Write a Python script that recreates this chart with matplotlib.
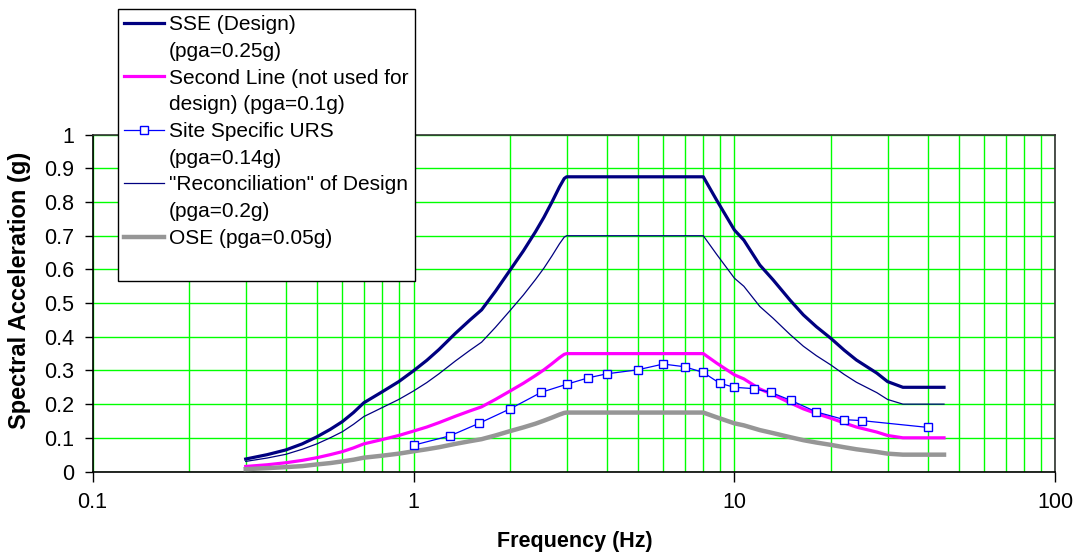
import matplotlib
matplotlib.use("Agg")
import matplotlib.pyplot as plt
from matplotlib.lines import Line2D
from matplotlib.ticker import FixedLocator, NullFormatter, LogLocator

plt.rcParams['font.family'] = ['Liberation Sans', 'DejaVu Sans']

# ---------------- data ----------------
freq = [0.30, 0.35, 0.40, 0.45, 0.50, 0.55, 0.60, 0.65, 0.70, 0.80, 0.90,
        1.00, 1.10, 1.20, 1.35, 1.50, 1.63, 1.80, 2.00, 2.20, 2.40, 2.55,
        2.70, 2.85, 2.95, 3.00, 8.00, 8.80, 10.0, 10.7, 12.0, 13.2, 14.9,
        16.4, 18.0, 20.0, 22.0, 24.0, 27.8, 30.0, 33.5, 45.0]

sse = [0.037, 0.050, 0.064, 0.082, 0.103, 0.125, 0.148, 0.175, 0.204, 0.237, 0.267,
       0.299, 0.330, 0.362, 0.410, 0.450, 0.480, 0.535, 0.598, 0.655, 0.712, 0.755,
       0.800, 0.845, 0.870, 0.875, 0.875, 0.806, 0.717, 0.687, 0.613, 0.569, 0.509,
       0.465, 0.430, 0.395, 0.360, 0.331, 0.292, 0.267, 0.250, 0.250]

second = [0.015, 0.020, 0.026, 0.033, 0.041, 0.050, 0.059, 0.070, 0.082, 0.095, 0.107,
          0.120, 0.132, 0.145, 0.164, 0.180, 0.192, 0.214, 0.239, 0.262, 0.285, 0.302,
          0.320, 0.338, 0.348, 0.350, 0.350, 0.322, 0.287, 0.275, 0.245, 0.228, 0.204,
          0.186, 0.172, 0.158, 0.144, 0.132, 0.117, 0.107, 0.100, 0.100]

recon = [0.030, 0.040, 0.051, 0.066, 0.082, 0.100, 0.118, 0.140, 0.163, 0.190, 0.214,
         0.239, 0.264, 0.290, 0.328, 0.360, 0.384, 0.428, 0.478, 0.524, 0.570, 0.604,
         0.640, 0.676, 0.696, 0.700, 0.700, 0.645, 0.574, 0.550, 0.490, 0.455, 0.407,
         0.372, 0.344, 0.316, 0.288, 0.265, 0.234, 0.214, 0.200, 0.200]

ose = [0.007, 0.010, 0.013, 0.016, 0.021, 0.025, 0.030, 0.035, 0.041, 0.047, 0.053,
       0.060, 0.066, 0.072, 0.082, 0.090, 0.096, 0.107, 0.120, 0.131, 0.142, 0.151,
       0.160, 0.169, 0.174, 0.175, 0.175, 0.161, 0.143, 0.137, 0.123, 0.114, 0.102,
       0.093, 0.086, 0.079, 0.072, 0.066, 0.058, 0.053, 0.050, 0.050]

urs_freq = [1.0, 1.3, 1.6, 2.0, 2.5, 3.0, 3.5, 4.0, 5.0, 6.0, 7.0, 8.0, 9.0, 10.0,
            11.5, 13.0, 15.0, 18.0, 22.0, 25.0, 40.0]
urs = [0.078, 0.106, 0.143, 0.186, 0.235, 0.259, 0.278, 0.290, 0.302, 0.319, 0.311,
       0.294, 0.262, 0.250, 0.246, 0.235, 0.211, 0.177, 0.154, 0.151, 0.131]

legend_labels = ['SSE (Design)', '(pga=0.25g)',
                 'Second Line (not used for', 'design) (pga=0.1g)',
                 'Site Specific URS', '(pga=0.14g)',
                 '"Reconciliation" of Design', '(pga=0.2g)',
                 'OSE (pga=0.05g)', ' ']

x_ticks = [0.1, 1, 10, 100]
x_ticklabels = ['0.1', '1', '10', '100']
y_ticks = [0, 0.1, 0.2, 0.3, 0.4, 0.5, 0.6, 0.7, 0.8, 0.9, 1.0]
y_ticklabels = ['0', '0.1', '0.2', '0.3', '0.4', '0.5', '0.6', '0.7', '0.8', '0.9', '1']

# ---------------- figure ----------------
W, H = 1079, 554
fig = plt.figure(figsize=(W / 100, H / 100), dpi=100)
ax = fig.add_axes([92.6 / W, 1 - 471.5 / H, (1055.3 - 92.6) / W, (471.5 - 134.7) / H])

ax.set_xscale('log')
ax.set_xlim(0.1, 100)
ax.set_ylim(0, 1)

green = '#00FF00'
ax.xaxis.set_major_locator(FixedLocator(x_ticks))
ax.xaxis.set_minor_locator(LogLocator(base=10, subs=[2, 3, 4, 5, 6, 7, 8, 9]))
ax.xaxis.set_minor_formatter(NullFormatter())
ax.set_xticks(x_ticks)
ax.set_xticklabels(x_ticklabels)
ax.set_yticks(y_ticks)
ax.set_yticklabels(y_ticklabels)
ax.grid(True, which='both', axis='x', color=green, lw=1.0, zorder=0)
ax.grid(True, which='major', axis='y', color=green, lw=1.0, zorder=0)
ax.set_axisbelow(True)

ax.tick_params(axis='x', which='major', direction='out', length=7, width=1,
               pad=8, labelsize=15.5, colors='black')
ax.tick_params(axis='x', which='minor', length=0)
ax.tick_params(axis='y', which='major', direction='out', length=6, width=1,
               pad=7, labelsize=15.5, colors='black')

for s in ['left', 'bottom']:
    ax.spines[s].set_color('black')
    ax.spines[s].set_linewidth(1.2)
for s in ['top', 'right']:
    ax.spines[s].set_color('#303030')
    ax.spines[s].set_linewidth(1.2)

# ---------------- series ----------------
l_sse, = ax.plot(freq, sse, color='#000080', lw=2.3, zorder=3)
l_sec, = ax.plot(freq, second, color='#FF00FF', lw=2.3, zorder=3)
l_urs, = ax.plot(urs_freq, urs, color='#0000FF', lw=0.9, marker='s', ms=6,
                 mfc='white', mec='#0000FF', mew=1.0, zorder=4)
l_rec, = ax.plot(freq, recon, color='#000080', lw=0.9, zorder=3)
l_ose, = ax.plot(freq, ose, color='#969696', lw=3.2, zorder=3)

blank = Line2D([], [], color='none')
handles = [l_sse, blank, l_sec, blank, l_urs, blank, l_rec, blank, l_ose, blank]
leg = fig.legend(handles, legend_labels, loc='upper left',
                 bbox_to_anchor=(118 / W, 1 - 9 / H), bbox_transform=fig.transFigure,
                 fontsize=15, frameon=True, fancybox=False, shadow=False,
                 edgecolor='black', framealpha=1, borderpad=0.3, labelspacing=0.37,
                 handlelength=1.9, handletextpad=0.25, borderaxespad=0)
leg.get_frame().set_linewidth(1.0)

fig.text(20 / W, 1 - 290 / H, 'Spectral Acceleration (g)', rotation=90,
         ha='center', va='center', fontsize=17, fontweight='bold')
fig.text(575 / W, 1 - 541 / H, 'Frequency (Hz)', ha='center', va='center',
         fontsize=15.5, fontweight='bold')

fig.savefig('out.png', dpi=100)
